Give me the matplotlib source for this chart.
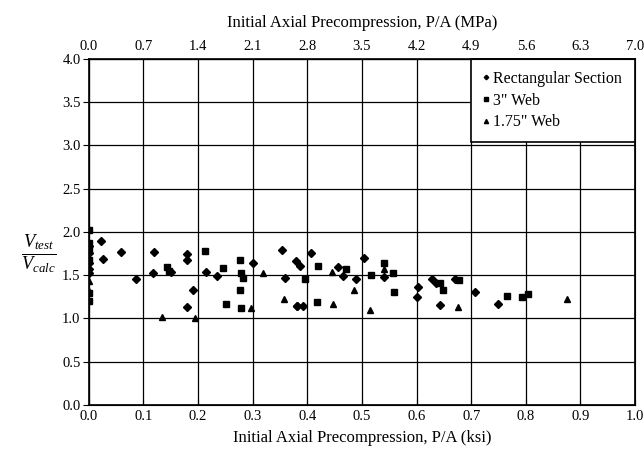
import numpy as np
import matplotlib
matplotlib.use("Agg")
import matplotlib.pyplot as plt

plt.rcParams['font.family'] = ['Liberation Serif', 'DejaVu Serif']
plt.rcParams['mathtext.fontset'] = 'custom'
plt.rcParams['mathtext.rm'] = 'Liberation Serif'
plt.rcParams['mathtext.it'] = 'Liberation Serif:italic'

# Rectangular section (diamonds)
rect_x = [0.0, 0.0, 0.0, 0.0, 0.0, 0.023, 0.026, 0.058, 0.087, 0.12, 0.118, 0.15,
          0.18, 0.18, 0.191, 0.179, 0.215, 0.235, 0.30, 0.353, 0.36, 0.379, 0.381,
          0.386, 0.407, 0.382, 0.392, 0.456, 0.466, 0.49, 0.504, 0.541, 0.603, 0.60,
          0.629, 0.636, 0.643, 0.67, 0.707, 0.75]
rect_y = [1.84, 1.76, 1.64, 1.53, 1.57, 1.90, 1.69, 1.77, 1.45, 1.77, 1.53, 1.54,
          1.74, 1.68, 1.33, 1.13, 1.54, 1.49, 1.64, 1.79, 1.47, 1.66, 1.14,
          1.61, 1.76, 1.14, 1.14, 1.59, 1.49, 1.46, 1.70, 1.48, 1.36, 1.25,
          1.46, 1.41, 1.15, 1.46, 1.30, 1.17]

# 3" web (squares)
web3_x = [0.0, 0.0, 0.0, 0.0, 0.0, 0.0, 0.143, 0.147, 0.213, 0.245, 0.277, 0.278,
          0.283, 0.277, 0.252, 0.279, 0.396, 0.419, 0.417, 0.47, 0.516, 0.54, 0.557,
          0.559, 0.643, 0.649, 0.678, 0.766, 0.794, 0.805]
web3_y = [2.02, 1.87, 1.80, 1.68, 1.29, 1.20, 1.59, 1.55, 1.78, 1.58, 1.68, 1.53,
          1.47, 1.33, 1.17, 1.12, 1.46, 1.61, 1.19, 1.57, 1.50, 1.64, 1.53,
          1.31, 1.41, 1.33, 1.44, 1.26, 1.25, 1.28]

# 1.75" web (triangles)
web175_x = [0.0, 0.0, 0.133, 0.195, 0.296, 0.319, 0.358, 0.446, 0.447, 0.486,
            0.514, 0.54, 0.676, 0.875]
web175_y = [1.43, 1.32, 1.02, 1.00, 1.12, 1.53, 1.22, 1.54, 1.17, 1.33,
            1.10, 1.57, 1.13, 1.23]

ksi_ticks = np.round(np.arange(0, 1.01, 0.1), 1)
mpa_labels = ['0.0', '0.7', '1.4', '2.1', '2.8', '3.5', '4.2', '4.9', '5.6', '6.3', '7.0']
y_ticks = np.arange(0, 4.01, 0.5)

fig = plt.figure(figsize=(6.44, 4.57), dpi=100)
ax = fig.add_axes([0.138, 0.114, 0.848, 0.757])

ax.plot(rect_x, rect_y, 'D', color='black', markersize=3.8, linestyle='none',
        label='Rectangular Section', zorder=3)
ax.plot(web3_x, web3_y, 's', color='black', markersize=4.5, linestyle='none',
        label='3" Web', zorder=3)
ax.plot(web175_x, web175_y, '^', color='black', markersize=5, linestyle='none',
        label='1.75" Web', zorder=3)

ax.set_xlim(0, 1.0)
ax.set_ylim(0, 4.0)
ax.set_xticks(ksi_ticks)
ax.set_xticklabels([f'{v:.1f}' for v in ksi_ticks])
ax.set_yticks(y_ticks)
ax.set_yticklabels([f'{v:.1f}' for v in y_ticks])
ax.grid(True, color='black', linewidth=0.9)
ax.set_axisbelow(True)
for s in ax.spines.values():
    s.set_linewidth(1.2)
ax.tick_params(axis='x', direction='in', length=4, labelsize=10.5, pad=4)
ax.tick_params(axis='y', direction='out', length=4, labelsize=10.5, pad=2)
ax.set_xlabel('Initial Axial Precompression, P/A (ksi)', fontsize=12, labelpad=5)

# top axis in MPa
ax2 = ax.twiny()
ax2.set_xlim(0, 1.0)
ax2.set_xticks(ksi_ticks)
ax2.set_xticklabels(mpa_labels)
ax2.tick_params(axis='x', direction='in', length=0, labelsize=10.5, pad=4)
ax2.set_xlabel('Initial Axial Precompression, P/A (MPa)', fontsize=12, labelpad=10)

fig.text(0.06, 0.443, r'$\frac{V_{test}}{V_{calc}}$', fontsize=19,
         ha='center', va='center')

leg = ax.legend(loc='upper left', bbox_to_anchor=(0.7, 0.0, 0.3, 1.0),
                mode='expand', borderaxespad=0, fancybox=False,
                edgecolor='black', framealpha=1, fontsize=11.5,
                handlelength=0.4, handletextpad=0.2, markerscale=0.6,
                borderpad=0.75, labelspacing=0.35)
leg.get_frame().set_linewidth(1.2)

fig.savefig('out.png', dpi=100)
